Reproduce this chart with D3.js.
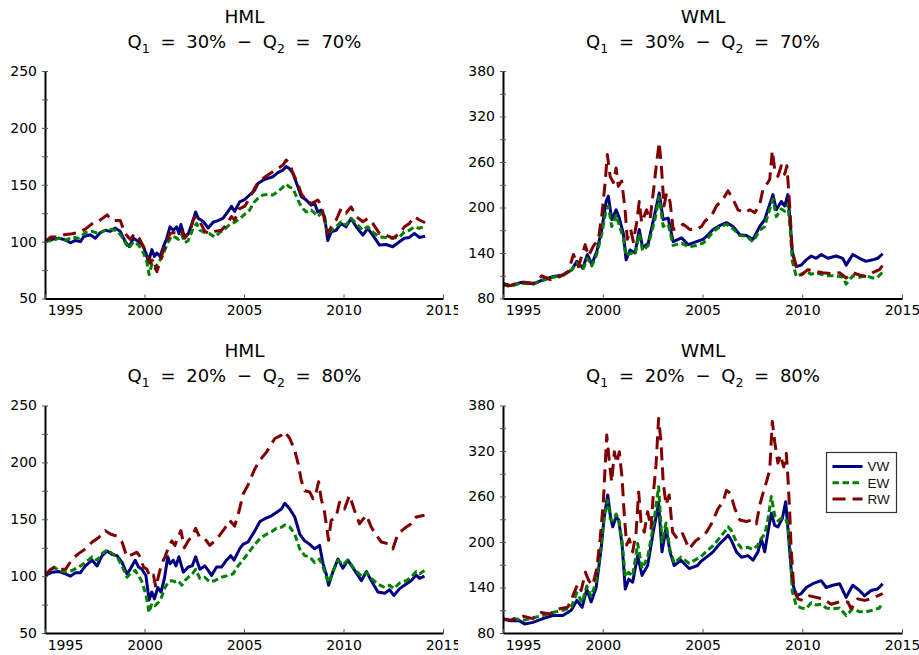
<!DOCTYPE html>
<html>
<head>
<meta charset="utf-8">
<script src="https://cdn.jsdelivr.net/npm/d3@7"></script>
<style>
  html, body { margin: 0; padding: 0; background: #fff; }
  svg { display: block; }
  text { font-family: "DejaVu Sans", sans-serif; fill: #000; }
</style>
</head>
<body>
<svg id="chart" width="919" height="655"></svg>
<script>
// Cumulative value of 100 invested, [year, value], per factor / breakpoint / weighting.

// HML, Q1 = 30% - Q2 = 70%
const hml30VW = [[1995.0,100],[1995.37,102],[1995.7,103],[1996.03,101.5],[1996.28,99],[1996.53,101],[1996.78,100],[1996.95,104.5],[1997.28,106],[1997.53,103],[1997.78,108],[1998.03,110],[1998.28,109],[1998.53,112],[1998.78,109],[1999.03,100],[1999.23,95.6],[1999.45,103],[1999.7,100],[1999.9,97],[2000.07,90],[2000.2,82],[2000.37,93],[2000.5,87],[2000.62,90],[2000.78,87],[2000.95,95.6],[2001.12,103],[2001.28,113],[2001.45,110],[2001.62,113],[2001.73,107],[2001.83,115],[2002.0,104.5],[2002.2,107],[2002.37,115],[2002.57,126],[2002.7,120.6],[2002.95,117.7],[2003.2,112],[2003.45,117],[2003.7,118.5],[2003.95,120.6],[2004.2,126.5],[2004.37,131],[2004.53,126.5],[2004.78,135],[2005.03,137],[2005.28,141],[2005.53,145],[2005.7,151],[2005.95,154],[2006.2,155.6],[2006.45,157],[2006.7,160.6],[2006.96,163],[2007.12,166],[2007.29,164],[2007.46,160],[2007.71,148],[2007.88,139.5],[2008.13,136.5],[2008.38,132],[2008.55,133.6],[2008.71,126],[2008.88,127.7],[2009.05,122],[2009.21,101],[2009.38,108.6],[2009.63,110],[2009.88,116],[2010.13,113],[2010.38,120.4],[2010.64,113],[2010.97,105.7],[2011.22,111.6],[2011.47,105.7],[2011.81,97],[2012.14,97.5],[2012.47,95.5],[2012.81,99.9],[2013.06,103],[2013.31,103.7],[2013.56,107.2],[2013.81,103.7],[2014.1,104.8]];
const hml30EW = [[1995.0,100],[1995.37,101],[1995.7,103],[1996.03,101],[1996.37,104],[1996.7,103],[1997.03,108],[1997.37,109],[1997.7,107],[1998.03,110],[1998.37,111],[1998.7,108],[1998.95,102],[1999.2,94],[1999.45,100],[1999.7,97],[1999.95,90],[2000.12,82],[2000.23,71],[2000.37,80],[2000.53,76],[2000.7,82],[2000.87,86],[2001.03,93],[2001.2,100],[2001.37,105],[2001.53,104],[2001.7,102],[2001.87,106],[2002.03,99],[2002.2,101],[2002.45,112],[2002.62,116],[2002.78,110],[2003.03,108],[2003.28,107],[2003.53,104],[2003.78,108],[2004.03,111],[2004.28,115],[2004.53,117],[2004.78,120],[2005.03,124],[2005.28,127.7],[2005.53,135],[2005.7,138],[2005.95,141],[2006.2,141.5],[2006.45,141],[2006.7,144],[2006.96,148],[2007.12,150.6],[2007.29,148],[2007.46,146.8],[2007.71,136.5],[2007.88,130.6],[2008.13,126],[2008.38,127.7],[2008.55,125],[2008.71,122],[2008.88,125],[2009.05,119],[2009.21,105.7],[2009.38,110],[2009.63,113],[2009.88,117.5],[2010.13,114.5],[2010.38,120.4],[2010.64,116],[2010.97,110],[2011.22,113],[2011.47,108.6],[2011.81,104],[2012.14,103.7],[2012.47,103],[2012.81,104],[2013.06,108.6],[2013.31,110],[2013.56,113],[2013.81,111.6],[2014.1,113.6]];
const hml30RW = [[1995.0,100],[1995.28,104],[1995.62,104],[1995.95,106],[1996.37,107],[1996.7,108],[1997.03,111],[1997.45,117],[1997.7,118],[1998.12,123.5],[1998.37,118.5],[1998.78,118.5],[1999.03,107],[1999.28,102],[1999.5,107],[1999.73,103],[1999.95,95.6],[2000.17,87],[2000.28,81],[2000.45,85],[2000.62,73.6],[2000.78,82],[2000.95,92.7],[2001.12,100],[2001.28,107],[2001.45,108],[2001.7,107],[2001.87,109],[2002.03,103],[2002.28,109],[2002.45,119],[2002.57,122],[2002.78,117.7],[2003.03,109],[2003.28,107],[2003.53,109],[2003.87,110],[2004.12,115],[2004.37,122],[2004.53,119],[2004.78,129],[2005.03,131],[2005.28,138],[2005.53,146.8],[2005.7,151.8],[2005.95,155.6],[2006.2,158.5],[2006.45,161.4],[2006.7,164.4],[2006.96,167.3],[2007.12,171.7],[2007.29,168.8],[2007.46,160],[2007.71,151],[2007.88,142],[2008.13,136.5],[2008.38,133.6],[2008.55,135],[2008.71,136.5],[2008.88,132],[2009.05,119],[2009.21,107],[2009.38,113],[2009.63,119],[2009.88,129],[2010.13,125],[2010.38,130.6],[2010.64,122],[2010.97,117.5],[2011.22,120.4],[2011.47,116],[2011.81,107],[2012.14,105.7],[2012.47,103],[2012.81,107],[2013.06,113],[2013.31,116],[2013.56,122],[2013.81,119],[2014.1,116.6]];

// WML, Q1 = 30% - Q2 = 70%
const wml30VW = [[1995.0,100],[1995.37,97],[1995.87,101],[1996.53,99.5],[1997.03,105],[1997.53,109],[1998.03,111],[1998.45,118],[1998.7,129],[1999.0,120],[1999.23,138],[1999.45,125],[1999.7,142],[1999.95,171],[2000.17,208],[2000.28,215],[2000.45,184],[2000.67,197],[2000.83,186],[2001.03,166],[2001.17,131],[2001.37,144],[2001.62,140],[2001.83,171],[2002.0,147],[2002.28,153],[2002.62,193],[2002.83,219],[2003.03,184],[2003.28,186],[2003.53,155],[2003.95,160],[2004.28,151],[2004.7,155],[2005.03,158],[2005.2,162],[2005.53,171],[2005.78,175],[2006.2,180],[2006.53,175],[2006.87,164],[2007.2,163],[2007.53,158],[2007.87,175],[2008.12,184],[2008.28,197],[2008.53,217],[2008.7,197],[2008.95,208],[2009.12,202],[2009.28,217],[2009.4,180],[2009.5,142],[2009.7,122],[2009.95,124],[2010.2,131],[2010.45,136],[2010.7,133],[2010.95,138],[2011.28,133],[2011.7,136],[2012.03,133],[2012.2,124],[2012.53,138],[2012.87,133],[2013.2,129],[2013.53,131],[2013.78,133],[2014.03,139]];
const wml30EW = [[1995.0,98],[1995.37,96],[1995.87,100],[1996.53,99],[1997.03,104],[1997.53,108],[1998.03,111],[1998.45,118],[1998.7,127],[1999.0,118],[1999.23,133],[1999.45,123],[1999.7,138],[1999.95,165],[2000.17,197],[2000.28,202],[2000.45,175],[2000.67,190],[2000.83,176],[2001.03,160],[2001.17,136],[2001.37,140],[2001.62,138],[2001.83,165],[2002.0,143],[2002.28,150],[2002.62,185],[2002.83,214],[2003.03,175],[2003.28,178],[2003.53,150],[2003.95,153],[2004.28,148],[2004.7,150],[2005.03,153],[2005.2,157],[2005.53,168],[2005.78,173],[2006.2,178],[2006.53,172],[2006.87,163],[2007.2,162],[2007.53,155],[2007.87,170],[2008.12,175],[2008.28,190],[2008.53,211],[2008.7,188],[2008.95,198],[2009.12,195],[2009.28,205],[2009.4,170],[2009.5,130],[2009.7,109],[2009.95,112],[2010.2,115],[2010.45,112],[2010.7,114],[2010.95,112],[2011.28,110],[2011.7,110],[2012.03,108],[2012.2,99],[2012.53,110],[2012.87,108],[2013.2,110],[2013.53,107],[2013.78,108],[2014.03,115]];
const wml30RW = [[1995.0,99],[1995.37,97],[1995.87,102],[1996.53,100],[1996.95,110],[1997.37,105],[1997.87,109],[1998.28,116],[1998.53,138],[1998.78,122],[1999.12,151],[1999.28,136],[1999.53,149],[1999.78,158],[1999.95,189],[2000.12,233],[2000.23,270],[2000.37,241],[2000.53,233],[2000.67,252],[2000.78,228],[2000.95,235],[2001.12,197],[2001.23,158],[2001.4,171],[2001.53,155],[2001.7,180],[2001.83,208],[2001.95,180],[2002.2,197],[2002.37,184],[2002.57,228],[2002.7,259],[2002.83,286],[2002.95,250],[2003.07,202],[2003.2,219],[2003.37,208],[2003.53,171],[2003.78,173],[2004.03,178],[2004.37,171],[2004.7,171],[2004.95,175],[2005.12,182],[2005.45,189],[2005.7,202],[2006.03,211],[2006.28,222],[2006.53,211],[2006.78,197],[2007.12,193],[2007.37,197],[2007.62,193],[2007.87,204],[2008.03,224],[2008.2,230],[2008.37,237],[2008.5,275],[2008.62,250],[2008.78,241],[2008.95,255],[2009.12,244],[2009.23,255],[2009.33,219],[2009.4,189],[2009.5,140],[2009.7,122],[2009.95,111],[2010.28,118],[2010.62,116],[2011.03,114],[2011.45,113],[2011.87,114],[2012.2,107],[2012.53,114],[2012.87,111],[2013.2,109],[2013.53,114],[2013.87,118],[2014.07,125]];

// HML, Q1 = 20% - Q2 = 80%
const hml20VW = [[1995.0,100.6],[1995.37,103.5],[1995.7,104],[1996.03,102],[1996.28,100],[1996.53,103],[1996.78,103],[1997.03,109],[1997.37,114],[1997.62,109],[1997.87,118],[1998.12,122],[1998.37,119],[1998.62,118],[1998.87,112],[1999.12,102],[1999.28,106],[1999.53,114],[1999.7,108],[1999.87,106],[2000.07,100.6],[2000.23,79],[2000.37,86],[2000.5,80],[2000.67,90],[2000.83,86],[2001.0,98],[2001.17,117],[2001.28,111],[2001.45,114],[2001.58,109],[2001.73,117],[2001.95,103.5],[2002.2,108],[2002.4,109],[2002.57,117],[2002.78,106],[2003.03,109],[2003.2,105],[2003.37,100.6],[2003.62,108],[2003.87,108],[2004.12,114],[2004.33,118],[2004.5,114],[2004.78,124],[2004.95,128],[2005.2,130],[2005.55,140],[2005.8,148],[2006.05,150.5],[2006.38,153],[2006.63,156],[2006.88,159],[2007.05,164],[2007.3,159],[2007.55,152],[2007.8,137],[2008.05,131],[2008.3,128],[2008.55,124],[2008.8,127],[2008.97,111],[2009.13,102],[2009.25,92],[2009.47,104],[2009.72,115],[2009.97,107],[2010.22,114],[2010.56,105],[2010.9,96],[2011.15,104],[2011.4,96],[2011.73,86],[2012.07,85],[2012.32,88],[2012.53,83],[2012.82,89],[2013.15,93],[2013.4,96],[2013.65,101],[2013.82,98],[2014.07,100]];
const hml20EW = [[1995.0,100.6],[1995.45,108],[1995.7,105],[1996.03,103.5],[1996.37,105],[1996.7,108],[1997.03,112],[1997.37,117],[1997.62,114],[1997.87,120],[1998.12,123],[1998.37,120],[1998.62,117],[1998.87,109],[1999.12,99],[1999.28,102],[1999.53,105],[1999.7,100.6],[1999.87,95],[2000.07,84],[2000.23,68],[2000.37,76],[2000.53,74],[2000.7,77],[2000.87,82],[2001.03,90],[2001.2,95],[2001.37,96],[2001.53,95],[2001.7,96],[2001.87,92],[2002.03,96],[2002.2,99],[2002.4,102],[2002.57,106],[2002.78,98],[2003.03,99],[2003.28,95],[2003.53,96],[2003.87,99],[2004.2,100.6],[2004.45,102],[2004.7,109],[2004.9,113],[2005.2,120],[2005.55,128],[2005.8,133],[2006.05,136],[2006.38,139],[2006.63,142],[2006.88,143],[2007.05,145],[2007.3,143],[2007.55,137],[2007.8,124],[2008.05,118],[2008.3,117],[2008.55,112],[2008.8,115],[2008.97,108],[2009.13,100],[2009.25,94],[2009.47,104],[2009.72,114],[2009.97,110],[2010.22,114],[2010.56,106],[2010.9,100],[2011.15,103],[2011.4,98],[2011.73,93],[2012.07,90],[2012.32,92],[2012.53,89],[2012.82,94],[2013.15,96],[2013.4,99],[2013.65,104],[2013.82,102],[2014.07,105]];
const hml20RW = [[1995.0,100.6],[1995.28,106],[1995.53,108],[1995.78,106],[1996.03,106],[1996.37,115],[1996.7,120],[1997.03,124],[1997.37,130],[1997.7,134],[1998.03,140],[1998.28,137],[1998.62,135],[1998.87,130],[1999.12,117],[1999.37,119],[1999.62,121],[1999.78,117],[1999.95,108],[2000.12,106],[2000.28,99],[2000.45,101],[2000.57,90],[2000.73,102],[2000.87,111],[2001.03,117],[2001.2,125],[2001.37,131],[2001.53,127],[2001.67,134],[2001.83,140],[2002.0,125],[2002.2,131],[2002.45,137],[2002.57,142],[2002.78,134],[2003.03,133],[2003.28,127],[2003.53,131],[2003.78,136],[2004.03,142],[2004.28,149],[2004.53,144],[2004.78,159],[2004.95,172],[2005.2,180],[2005.55,194.5],[2005.8,202],[2006.13,209],[2006.55,221],[2006.88,224],[2007.05,227],[2007.3,221],[2007.55,210.5],[2007.72,199],[2007.88,184],[2008.05,175],[2008.3,174],[2008.47,168],[2008.63,174],[2008.75,183],[2008.88,168],[2009.05,156],[2009.18,140],[2009.25,131.5],[2009.38,149],[2009.63,152],[2009.8,165],[2010.05,159],[2010.3,171],[2010.55,158],[2010.8,146],[2011.15,153.5],[2011.4,143],[2011.65,136],[2011.9,130],[2012.23,128.5],[2012.48,124],[2012.73,137],[2013.07,142],[2013.4,146],[2013.65,152],[2014.07,153.5]];

// WML, Q1 = 20% - Q2 = 80%
const wml20VW = [[1995.0,98.6],[1995.35,96],[1995.83,96],[1996.08,92],[1996.5,94],[1997.0,99],[1997.5,103],[1998.0,103],[1998.42,110],[1998.7,123],[1998.97,114],[1999.2,138],[1999.42,121],[1999.67,140],[1999.92,191],[2000.08,235],[2000.25,262],[2000.38,235],[2000.5,220],[2000.67,233],[2000.8,229],[2000.97,196],[2001.13,138],[2001.3,151],[2001.5,147],[2001.75,182],[2001.97,156],[2002.25,169],[2002.53,213],[2002.8,251],[2002.97,187],[2003.17,218],[2003.37,187],[2003.58,169],[2003.92,176],[2004.33,165],[2004.75,169],[2004.9,174],[2005.2,180],[2005.53,187],[2005.87,198],[2006.12,204],[2006.28,209],[2006.45,202],[2006.7,187],[2006.95,180],[2007.28,182],[2007.53,176],[2007.78,187],[2007.95,204],[2008.12,187],[2008.28,213],[2008.45,238],[2008.62,222],[2008.78,220],[2009.0,231],[2009.17,253],[2009.28,218],[2009.4,178],[2009.5,147],[2009.7,129],[2009.95,132],[2010.2,140],[2010.53,145],[2010.95,149],[2011.2,140],[2011.53,143],[2011.87,145],[2012.2,127],[2012.53,143],[2012.87,136],[2013.12,129],[2013.45,136],[2013.78,138],[2014.03,145]];
const wml20EW = [[1995.0,97],[1995.5,99],[1996.08,97],[1996.5,100],[1997.0,103],[1997.5,107],[1998.0,110],[1998.42,114],[1998.7,133],[1998.97,120],[1999.2,142],[1999.42,128],[1999.67,148],[1999.92,195],[2000.08,235],[2000.25,255],[2000.38,230],[2000.5,228],[2000.67,237],[2000.8,230],[2000.97,200],[2001.13,154],[2001.3,160],[2001.5,155],[2001.75,198],[2001.97,165],[2002.25,180],[2002.53,220],[2002.8,273],[2002.97,200],[2003.17,225],[2003.37,190],[2003.58,172],[2003.92,180],[2004.33,172],[2004.75,178],[2004.9,180],[2005.2,188],[2005.53,195],[2005.87,206],[2006.12,214],[2006.28,220],[2006.45,215],[2006.7,200],[2006.95,192],[2007.28,193],[2007.53,190],[2007.78,196],[2007.95,205],[2008.12,210],[2008.28,230],[2008.45,260],[2008.62,235],[2008.78,228],[2009.0,232],[2009.17,230],[2009.28,222],[2009.4,190],[2009.5,135],[2009.7,116],[2009.95,113],[2010.2,112],[2010.45,120],[2010.7,117],[2010.95,118],[2011.2,113],[2011.53,112],[2011.87,113],[2012.2,103],[2012.53,112],[2012.87,108],[2013.2,108],[2013.53,110],[2013.87,113],[2014.03,120]];
const wml20RW = [[1995.0,99],[1995.35,97],[1995.67,99],[1996.0,102],[1996.5,99],[1996.92,107],[1997.33,105],[1997.83,112],[1998.25,114],[1998.5,129],[1998.75,145],[1998.92,136],[1999.13,160],[1999.3,149],[1999.5,143],[1999.7,165],[1999.87,204],[2000.03,253],[2000.2,341],[2000.33,306],[2000.45,279],[2000.58,319],[2000.7,304],[2000.83,319],[2000.97,284],[2001.08,235],[2001.2,196],[2001.33,204],[2001.5,187],[2001.67,213],[2001.8,266],[2001.92,226],[2002.08,213],[2002.25,240],[2002.42,218],[2002.53,262],[2002.67,301],[2002.8,363],[2002.92,332],[2003.03,279],[2003.17,249],[2003.33,262],[2003.5,213],[2003.75,204],[2004.0,211],[2004.33,191],[2004.67,202],[2004.9,206],[2005.2,213],[2005.45,224],[2005.78,244],[2006.03,253],[2006.2,268],[2006.4,264],[2006.62,244],[2006.87,229],[2007.2,227],[2007.5,229],[2007.7,224],[2007.87,249],[2008.03,264],[2008.2,279],[2008.37,295],[2008.5,359],[2008.62,332],[2008.78,304],[2008.9,315],[2009.07,299],[2009.2,317],[2009.28,286],[2009.37,240],[2009.45,187],[2009.57,143],[2009.78,125],[2010.03,123],[2010.37,129],[2010.7,127],[2011.03,125],[2011.45,118],[2011.87,121],[2012.28,121],[2012.45,112],[2012.78,125],[2013.12,123],[2013.45,125],[2013.78,129],[2014.03,132]];

// Axis ticks and labels
const yearTicks = [1995, 2000, 2005, 2010, 2015];
const hmlTicks = [50, 100, 150, 200, 250];
const wmlTicks = [80, 140, 200, 260, 320, 380];
const factorNames = ["HML", "WML"];
const lowQuantiles = ["30%", "20%"];
const highQuantiles = ["70%", "80%"];
const seriesNames = ["VW", "EW", "RW"];

// Styles per weighting scheme
const seriesColors = ["#000080", "#008000", "#800000"];
const seriesDash = [null, "6.5,3.5", "13,7"];

// Panel grid: columns are factors, rows are breakpoint pairs
const colX = [[45, 443], [503, 902]];
const rowY = [[71, 298.5], [405.5, 633]];
const titleY = [[23, 48], [357, 382]];
const colClip = [[0, 458], [459, 919]];

const panels = [
  { col: 0, row: 0, ticks: hmlTicks, minor: 25, data: [hml30VW, hml30EW, hml30RW] },
  { col: 1, row: 0, ticks: wmlTicks, minor: 30, data: [wml30VW, wml30EW, wml30RW] },
  { col: 0, row: 1, ticks: hmlTicks, minor: 25, data: [hml20VW, hml20EW, hml20RW] },
  { col: 1, row: 1, ticks: wmlTicks, minor: 30, data: [wml20VW, wml20EW, wml20RW], legend: true }
];

const svg = d3.select("#chart");
const defs = svg.append("defs");

panels.forEach((p, i) => {
  const [x0, x1] = colX[p.col];
  const [y0, y1] = rowY[p.row];
  const [cl0, cl1] = colClip[p.col];

  defs.append("clipPath").attr("id", "panel-clip-" + i)
    .append("rect").attr("x", cl0).attr("y", 0).attr("width", cl1 - cl0).attr("height", 655);
  defs.append("clipPath").attr("id", "plot-clip-" + i)
    .append("rect").attr("x", x0).attr("y", y0 - 5).attr("width", x1 - x0).attr("height", y1 - y0 + 5);

  const g = svg.append("g").attr("clip-path", `url(#panel-clip-${i})`);

  const x = d3.scaleLinear().domain([yearTicks[0], yearTicks[yearTicks.length - 1]]).range([x0, x1]);
  const y = d3.scaleLinear().domain([p.ticks[0], p.ticks[p.ticks.length - 1]]).range([y1, y0]);

  // Title
  const cx = (x0 + x1) / 2 + 0.5;
  g.append("text").attr("x", cx).attr("y", titleY[p.row][0])
    .attr("text-anchor", "middle").style("font-size", "18.5px")
    .text(factorNames[p.col]);
  const t = g.append("text").attr("x", cx).attr("y", titleY[p.row][1])
    .attr("text-anchor", "middle").style("font-size", "18px")
    .style("white-space", "pre").style("word-spacing", "5px");
  t.append("tspan").text("Q");
  t.append("tspan").attr("dy", 5).style("font-size", "12.5px").text("1");
  t.append("tspan").attr("dy", -5).text(` = ${lowQuantiles[p.row]} \u2212 Q`);
  t.append("tspan").attr("dy", 5).style("font-size", "12.5px").text("2");
  t.append("tspan").attr("dy", -5).text(` = ${highQuantiles[p.row]}`);

  // Series lines
  const line = d3.line().x(d => x(d[0])).y(d => y(d[1]));
  const lines = g.append("g").attr("clip-path", `url(#plot-clip-${i})`);
  p.data.forEach((s, k) => {
    lines.append("path").datum(s)
      .attr("d", line)
      .attr("fill", "none")
      .attr("stroke", seriesColors[k])
      .attr("stroke-width", 3)
      .attr("stroke-linejoin", "round")
      .attr("stroke-dasharray", seriesDash[k]);
  });

  // Y axis: labelled majors with a minor tick midway
  const yTickVals = d3.range(p.ticks[0], p.ticks[p.ticks.length - 1] + 0.1, p.minor);
  const yAxis = d3.axisLeft(y)
    .tickValues(yTickVals)
    .tickFormat(v => p.ticks.includes(v) ? String(v) : "")
    .tickSizeInner(3).tickSizeOuter(0).tickPadding(5);
  const ya = g.append("g").attr("transform", `translate(${x0},0)`).call(yAxis);
  ya.select(".domain").attr("stroke", "#000").attr("stroke-width", 2);
  ya.selectAll(".tick line").attr("x1", 3).attr("stroke", "#555");
  ya.selectAll(".tick text").style("font-size", "14px").style("font-family", "DejaVu Sans, sans-serif");

  // X axis: ticks point into the plot
  const xAxis = d3.axisBottom(x)
    .tickValues(yearTicks)
    .tickFormat(d3.format("d"))
    .tickSizeInner(-4).tickSizeOuter(0).tickPadding(7);
  const xa = g.append("g").attr("transform", `translate(0,${y1})`).call(xAxis);
  xa.select(".domain").attr("stroke", "#000").attr("stroke-width", 2);
  xa.selectAll(".tick line").attr("stroke", "#555");
  xa.selectAll(".tick text").style("font-size", "14px").style("font-family", "DejaVu Sans, sans-serif");
  // first year label sits clear of the corner
  xa.selectAll(".tick text").filter(d => d === yearTicks[0]).attr("dx", 20);

  // Legend
  if (p.legend) {
    const lg = g.append("g").attr("transform", "translate(826.5,452.5)");
    lg.append("rect").attr("width", 70).attr("height", 60)
      .attr("fill", "#fff").attr("stroke", "#333").attr("stroke-width", 1.2);
    seriesNames.forEach((name, k) => {
      const yy = 14 + k * 16.2;
      lg.append("line").attr("x1", 6).attr("x2", 36).attr("y1", yy).attr("y2", yy)
        .attr("stroke", seriesColors[k]).attr("stroke-width", 3)
        .attr("stroke-dasharray", seriesDash[k]);
      lg.append("text").attr("x", 41).attr("y", yy).attr("dy", "0.36em")
        .style("font-family", "'Liberation Sans', Arial, sans-serif")
        .style("font-size", "13.5px").style("fill", "#111")
        .text(name);
    });
  }
});
</script>
</body>
</html>
